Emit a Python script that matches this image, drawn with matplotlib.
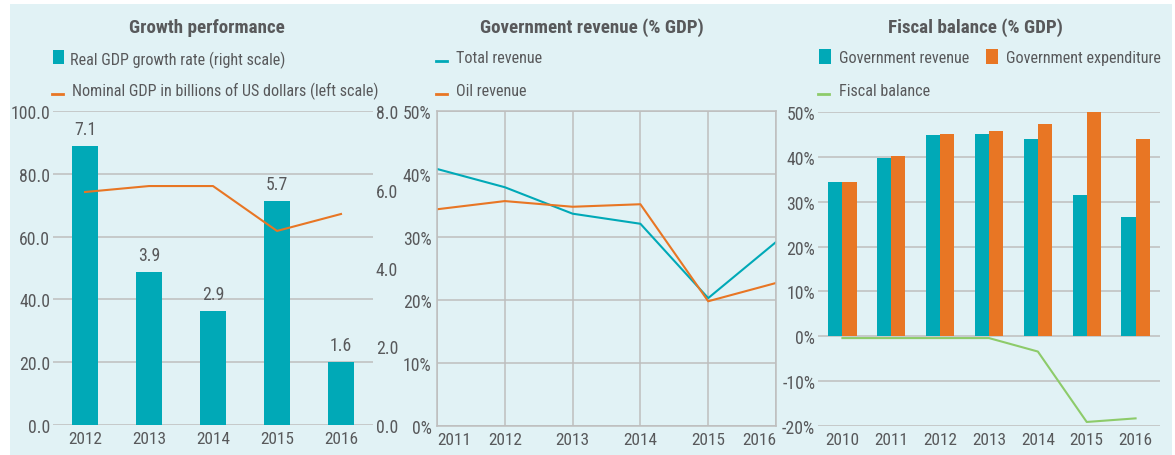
import matplotlib
matplotlib.use('Agg')
import matplotlib.pyplot as plt
from matplotlib import font_manager
from matplotlib.patches import Rectangle
from matplotlib.lines import Line2D

# ---------------- font choice (prefer a condensed face) ----------------
entries = font_manager.fontManager.ttflist
cond = [f for f in entries
        if ('Narrow' in f.name or 'Condensed' in f.name
            or str(f.stretch) in ('condensed', 'semi-condensed', 'extra-condensed', 'ultra-condensed'))]
pref = ['Liberation Sans Narrow', 'Roboto Condensed', 'Open Sans Condensed', 'DejaVu Sans', 'Noto Sans']
FONT, STRETCH = 'DejaVu Sans', 'normal'
for p in pref:
    hit = [f for f in cond if f.name == p]
    if hit:
        FONT, STRETCH = hit[0].name, hit[0].stretch
        break
else:
    if cond:
        FONT, STRETCH = cond[0].name, cond[0].stretch
plt.rcParams['font.family'] = [FONT, 'DejaVu Sans']
plt.rcParams['font.stretch'] = STRETCH

# ---------------- data ----------------
years1 = ['2012', '2013', '2014', '2015', '2016']
growth = [7.1, 3.9, 2.9, 5.7, 1.6]
nominal_gdp = [74.2, 76.1, 76.1, 61.8, 67.2]
left_ticks1 = [0, 20, 40, 60, 80, 100]
right_ticks1 = [0, 2, 4, 6, 8]

years2 = [2011, 2012, 2013, 2014, 2015, 2016]
total_revenue = [40.8, 37.9, 33.7, 32.1, 20.3, 29.2]
oil_revenue = [34.4, 35.7, 34.8, 35.2, 19.8, 22.7]
ticks2 = [0, 10, 20, 30, 40, 50]

years3 = ['2010', '2011', '2012', '2013', '2014', '2015', '2016']
gov_revenue = [34.4, 39.7, 44.9, 45.2, 44.0, 31.5, 26.5]
gov_expenditure = [34.5, 40.1, 45.2, 45.7, 47.4, 49.9, 44.0]
fiscal_balance = [-0.4, -0.4, -0.4, -0.4, -3.4, -19.1, -18.3]
ticks3 = [-20, -10, 0, 10, 20, 30, 40, 50]

# ---------------- style ----------------
TEAL = '#00A9B7'
ORANGE = '#E87624'
GREEN = '#8DCB6A'
BG = '#E1F2F5'
GRID = '#BEBEBE'
TXT = '#58595B'

W, H = 1175, 456
fig = plt.figure(figsize=(W / 100, H / 100), dpi=100)
fig.patch.set_facecolor('white')
renderer = fig.canvas.get_renderer()


def fit_size(s, target_px, weight='normal'):
    t = fig.text(0, 0, s, fontsize=10, fontweight=weight)
    w = t.get_window_extent(renderer).width
    t.remove()
    return 10 * target_px / w


FS_L = fit_size('Government expenditure', 155)
FS_T = fit_size('Growth performance', 143, 'bold') * 1.08
FS_K = fit_size('100.0', 35) * 1.12
FS_X = fit_size('2012', 28) * 1.2

fig.add_artist(Rectangle((10 / W, 0), (1172 - 10) / W, 1 - 5 / H,
                         transform=fig.transFigure, facecolor=BG,
                         edgecolor='none', zorder=-10))


def axes_px(x0, y0, x1, y1):
    ax = fig.add_axes([x0 / W, 1 - y1 / H, (x1 - x0) / W, (y1 - y0) / H])
    ax.patch.set_visible(False)
    for s in ax.spines.values():
        s.set_visible(False)
    ax.tick_params(length=0, colors=TXT)
    ax.tick_params(axis='y', labelsize=FS_K)
    ax.tick_params(axis='x', labelsize=FS_X)
    return ax


def ftext(x, y, s, **kw):
    kw.setdefault('color', TXT)
    kw.setdefault('fontsize', FS_L)
    kw.setdefault('va', 'baseline')
    fig.text(x / W, 1 - y / H, s, **kw)


def fsquare(x0, y0, x1, y1, color):
    fig.add_artist(Rectangle((x0 / W, 1 - y1 / H), (x1 - x0) / W, (y1 - y0) / H,
                             transform=fig.transFigure, facecolor=color,
                             edgecolor='none'))


def fline(x0, x1, y, color):
    fig.add_artist(Line2D([x0 / W, x1 / W], [1 - y / H, 1 - y / H],
                          transform=fig.transFigure, color=color, lw=2))


# ---------------- panel 1 ----------------
P1 = (53, 112, 373, 426)
x1 = list(range(len(years1)))
axg = axes_px(*P1)
axg.set_xlim(-0.5, len(years1) - 0.5)
axg.set_ylim(0, 100)
axg.set_yticks(left_ticks1, [f'{v:.1f}' for v in left_ticks1])
axg.set_xticks(x1, years1)
axg.tick_params(axis='y', pad=2)
axg.tick_params(axis='x', pad=4)
axg.grid(axis='y', color=GRID, lw=1.1)

axb = axes_px(*P1)
axb.set_xlim(-0.5, len(years1) - 0.5)
axb.set_ylim(0, 8)
bars = axb.bar(x1, growth, width=0.4, color=TEAL)
axb.bar_label(bars, labels=[f'{v:.1f}' for v in growth], padding=6,
              color=TXT, fontsize=FS_K)
axb.yaxis.tick_right()
axb.set_yticks(right_ticks1, [f'{v:.1f}' for v in right_ticks1])
axb.set_xticks([])
axb.tick_params(axis='y', pad=2)

axl = axes_px(*P1)
axl.set_xlim(-0.5, len(years1) - 0.5)
axl.set_ylim(0, 100)
axl.plot(x1, nominal_gdp, color=ORANGE, lw=1.5)
axl.axis('off')

ftext(207, 33, 'Growth performance', ha='center', fontweight='bold', fontsize=FS_T)
fsquare(53, 51, 64, 65, TEAL)
ftext(70, 65, 'Real GDP growth rate (right scale)')
fline(52, 63, 95, ORANGE)
ftext(72, 96, 'Nominal GDP in billions of US dollars (left scale)')

# ---------------- panel 2 ----------------
ax2 = axes_px(437, 112, 776, 427)
ax2.plot(years2, total_revenue, color=TEAL, lw=1.5)
ax2.plot(years2, oil_revenue, color=ORANGE, lw=1.5)
ax2.set_xlim(years2[0], years2[-1])
ax2.set_ylim(0, 50)
ax2.set_yticks(ticks2, [f'{v}%' for v in ticks2])
ax2.set_xticks(years2, [str(y) for y in years2])
labs = ax2.get_xticklabels()
labs[0].set_ha('left')
labs[-1].set_ha('right')
ax2.tick_params(axis='y', pad=4)
ax2.tick_params(axis='x', pad=4)
ax2.grid(True, color=GRID, lw=1.1)
ax2.set_axisbelow(True)
for s in ax2.spines.values():
    s.set_visible(True)
    s.set_color(GRID)
    s.set_linewidth(1.1)

ftext(592, 33, 'Government revenue (% GDP)', ha='center', fontweight='bold', fontsize=FS_T)
fline(436, 447, 62, TEAL)
ftext(456, 63, 'Total revenue')
fline(436, 447, 95, ORANGE)
ftext(456, 96, 'Oil revenue')

# ---------------- panel 3 ----------------
ax3 = axes_px(818, 113, 1160, 427)
x3 = list(range(len(years3)))
bw = 0.29
ax3.bar([i - bw / 2 for i in x3], gov_revenue, width=bw, color=TEAL, zorder=2)
ax3.bar([i + bw / 2 for i in x3], gov_expenditure, width=bw, color=ORANGE, zorder=2)
ax3.plot(x3, fiscal_balance, color=GREEN, lw=1.5, zorder=3)
ax3.set_xlim(-0.5, len(years3) - 0.5)
ax3.set_ylim(-20, 50)
ax3.set_yticks(ticks3, [f'{v}%' for v in ticks3])
ax3.set_xticks(x3, years3)
ax3.tick_params(axis='y', pad=2)
ax3.tick_params(axis='x', pad=4)
ax3.grid(axis='y', color=GRID, lw=1.1, zorder=0)
ax3.set_axisbelow(True)

ftext(975, 33, 'Fiscal balance (% GDP)', ha='center', fontweight='bold', fontsize=FS_T)
fsquare(819, 50, 831, 65, TEAL)
ftext(839, 63, 'Government revenue')
fsquare(986, 50, 998, 65, ORANGE)
ftext(1006, 63, 'Government expenditure')
fline(818, 829, 95, GREEN)
ftext(839, 96, 'Fiscal balance')

fig.savefig('out.png', dpi=100, facecolor=fig.get_facecolor())
